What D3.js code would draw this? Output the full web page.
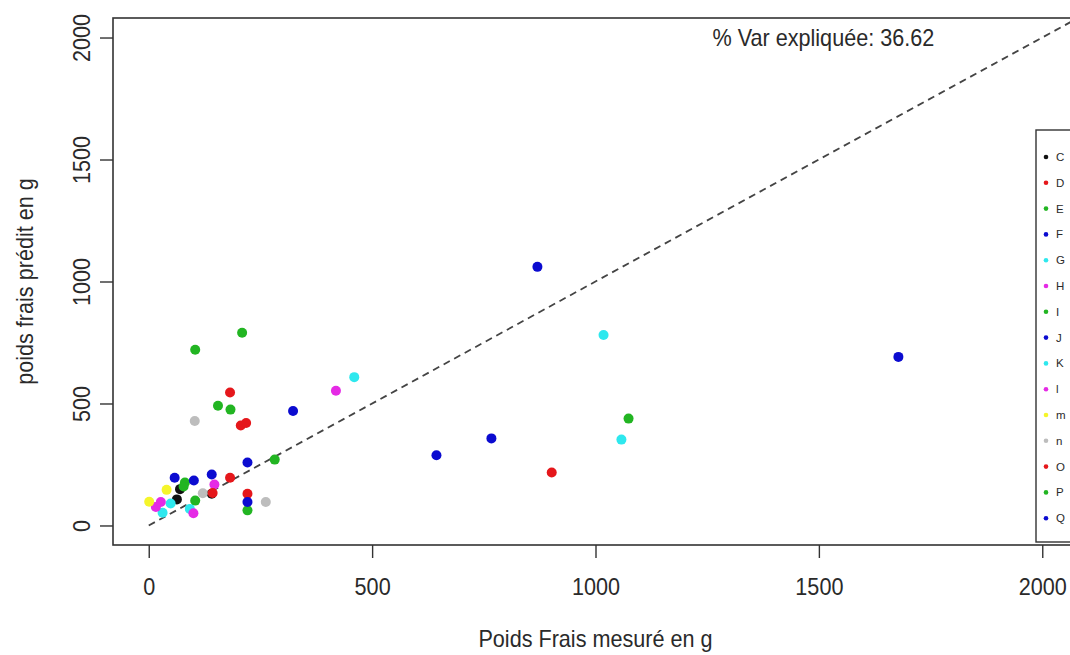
<!DOCTYPE html>
<html>
<head>
<meta charset="utf-8">
<script src="https://cdn.jsdelivr.net/npm/d3@7"></script>
<style>
  body { margin: 0; background: #fff; }
  text { font-family: "Liberation Sans", Arial, sans-serif; fill: #2a2a2a; }
</style>
</head>
<body>
<div id="plot"></div>
<script>
const GROUPS = ["C", "D", "E", "F", "G", "H", "I", "J", "K", "l", "m", "n", "O", "P", "Q"]
const GROUP_COLORS = [
  "#111111", "#e5171b", "#22b522", "#0b0bd0", "#2ee8ee",
  "#e52ae5", "#22b522", "#0b0bd0", "#2ee8ee", "#e52ae5",
  "#f5f52a", "#bdbdbd", "#e5171b", "#22b522", "#0b0bd0"]

// one entry per plant : group, measured (x), predicted (y)
const POINT_GROUP = [
  "C", "C", "C",
  "D", "D", "D", "D",
  "E", "E", "E", "E",
  "F", "F", "F", "F",
  "G", "G", "G",
  "H", "H",
  "I", "I", "I", "I",
  "J", "J", "J", "J", "J",
  "K", "K", "K",
  "l", "l", "l",
  "m", "m",
  "n", "n", "n",
  "O", "O", "O",
  "P", "P",
  "Q"]
const MEASURED = [
  70, 63, 141,
  182, 206, 218, 902,
  209, 104, 155, 183,
  870, 1678, 644, 767,
  1018, 1058, 460,
  419, 147,
  282, 81, 78, 104,
  323, 221, 58, 101, 141,
  49, 31, 92,
  27, 16, 100,
  40, 1,
  103, 121, 262,
  182, 221, 143,
  221, 1074,
  221]
const PREDICTED = [
  149, 107, 130,
  545, 410, 420, 217,
  790, 720, 491, 475,
  1060, 691, 288, 357,
  781, 352, 608,
  552, 168,
  270, 176, 160, 102,
  469, 258, 196, 184, 209,
  90, 52, 68,
  96, 76, 50,
  146, 97,
  428, 132, 96,
  196, 130, 133,
  62, 438,
  96]

const X_TICKS = [0, 500, 1000, 1500, 2000]
const Y_TICKS = [0, 500, 1000, 1500, 2000]
const VAR_TEXT = "% Var expliquée: 36.62"

const W = 1070, H = 655
const plotLeft = 113, plotTop = 18, plotRight = 1078, plotBottom = 545
const squeeze = "scale(0.94,1)"

const svg = d3.select("#plot").append("svg")
  .attr("width", W)
  .attr("height", H)

const x = d3.scaleLinear().domain([-80, 2080]).range([plotLeft, plotRight])
const y = d3.scaleLinear().domain([-80, 2080]).range([plotBottom, plotTop])

const color = d3.scaleOrdinal().domain(GROUPS).range(GROUP_COLORS)

svg.append("clipPath").attr("id", "clip")
  .append("rect")
  .attr("x", plotLeft).attr("y", plotTop)
  .attr("width", plotRight - plotLeft).attr("height", plotBottom - plotTop)

// y = x reference line, drawn from the origin
svg.append("line")
  .attr("clip-path", "url(#clip)")
  .attr("x1", x(0)).attr("y1", y(0))
  .attr("x2", x(2080)).attr("y2", y(2080))
  .attr("stroke", "#444")
  .attr("stroke-width", 1.8)
  .attr("stroke-dasharray", "7,5")

// points
svg.append("g")
  .attr("clip-path", "url(#clip)")
  .selectAll("circle")
  .data(d3.range(MEASURED.length))
  .enter()
  .append("circle")
    .attr("cx", function (i) { return x(MEASURED[i]) })
    .attr("cy", function (i) { return y(PREDICTED[i]) })
    .attr("r", 5)
    .style("fill", function (i) { return color(POINT_GROUP[i]) })

// frame
svg.append("rect")
  .attr("x", plotLeft).attr("y", plotTop)
  .attr("width", plotRight - plotLeft).attr("height", plotBottom - plotTop)
  .attr("fill", "none")
  .attr("stroke", "#333")
  .attr("stroke-width", 1.6)

// x axis
const xAxis = svg.append("g")
  .attr("transform", "translate(0," + plotBottom + ")")
  .call(d3.axisBottom(x).tickValues(X_TICKS).tickSize(13).tickPadding(21).tickFormat(d3.format("d")))
xAxis.select(".domain").remove()
xAxis.selectAll("line").attr("stroke", "#333").attr("stroke-width", 1.4)
xAxis.selectAll("text")
  .attr("transform", squeeze)
  .style("font-size", "23px")
  .style("font-family", "'Liberation Sans', Arial, sans-serif")
  .attr("fill", "#2a2a2a")

// y axis, labels turned like R's las=0
const yAxis = svg.append("g")
  .attr("transform", "translate(" + plotLeft + ",0)")
  .call(d3.axisLeft(y).tickValues(Y_TICKS).tickSize(13).tickFormat(d3.format("d")))
yAxis.select(".domain").remove()
yAxis.selectAll("line").attr("stroke", "#333").attr("stroke-width", 1.4)
yAxis.selectAll("text")
  .attr("x", 0)
  .attr("y", -23)
  .attr("dy", null)
  .attr("text-anchor", "middle")
  .attr("transform", "rotate(-90) " + squeeze)
  .style("font-size", "23px")
  .style("font-family", "'Liberation Sans', Arial, sans-serif")
  .attr("fill", "#2a2a2a")

// axis titles
svg.append("text")
  .attr("transform", "translate(" + ((plotLeft + plotRight) / 2) + ",647) " + squeeze)
  .attr("text-anchor", "middle")
  .style("font-size", "23px")
  .text("Poids Frais mesuré en g")

svg.append("text")
  .attr("transform", "translate(33," + ((plotTop + plotBottom) / 2) + ") rotate(-90) " + squeeze)
  .attr("text-anchor", "middle")
  .style("font-size", "23px")
  .text("poids frais prédit en g")

// explained variance
svg.append("text")
  .attr("transform", "translate(" + x(1510) + "," + (y(2000) + 8.5) + ") " + squeeze)
  .attr("text-anchor", "middle")
  .style("font-size", "23px")
  .text(VAR_TEXT)

// legend (cut by the window edge, as in the original)
const legend = svg.append("g")
legend.append("rect")
  .attr("x", 1036).attr("y", 130)
  .attr("width", 80).attr("height", 412)
  .attr("fill", "#fff")
  .attr("stroke", "#333")
  .attr("stroke-width", 1.4)

const item = legend.selectAll("g.item")
  .data(GROUPS)
  .enter()
  .append("g")
    .attr("class", "item")
    .attr("transform", function (d, i) { return "translate(0," + (157 + i * 25.8) + ")" })

item.append("circle")
  .attr("cx", 1046)
  .attr("cy", 0)
  .attr("r", 2.3)
  .style("fill", function (d) { return color(d) })

item.append("text")
  .attr("x", 1056)
  .attr("y", 4)
  .style("font-size", "11.5px")
  .text(function (d) { return d })
</script>
</body>
</html>
